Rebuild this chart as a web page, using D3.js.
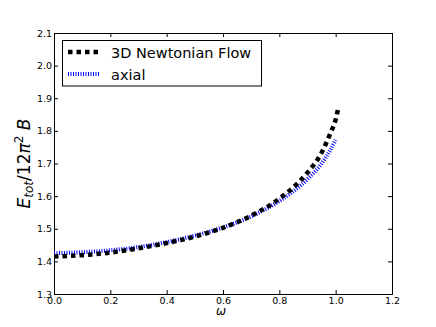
<!DOCTYPE html><meta charset="utf-8">
<title>E_tot vs omega</title>
<style>
  body{margin:0;background:#fff}
  svg{display:block}
  text{font-family:"DejaVu Sans",sans-serif}
</style>
<script src="https://d3js.org/d3.v7.min.js"></script>
<body><script>
const W = 436, H = 327;
const m = {left:54, right:44, top:33, bottom:33};

// data
const omegaNewton = [0, 0.1, 0.2, 0.3, 0.4, 0.5, 0.6, 0.7, 0.8, 0.85, 0.9, 0.95, 0.98, 1.0, 1.01];
const eNewton     = [1.415, 1.419, 1.427, 1.440, 1.456, 1.476, 1.503, 1.540, 1.592, 1.627, 1.672, 1.733, 1.790, 1.835, 1.873];
const omegaAxial  = [0, 0.1, 0.2, 0.3, 0.4, 0.5, 0.6, 0.7, 0.8, 0.85, 0.9, 0.95, 0.98, 1.0];
const eAxial      = [1.425, 1.428, 1.434, 1.444, 1.459, 1.479, 1.504, 1.538, 1.585, 1.615, 1.652, 1.700, 1.740, 1.772];
const xTicks = [0, 0.2, 0.4, 0.6, 0.8, 1.0, 1.2];
const yTicks = [1.3, 1.4, 1.5, 1.6, 1.7, 1.8, 1.9, 2.0, 2.1];
const seriesNames = ["3D Newtonian Flow", "axial"];

const svg = d3.select("body").append("svg").attr("width", W).attr("height", H);
const x = d3.scaleLinear().domain([0, 1.2]).range([m.left, W - m.right]);
const y = d3.scaleLinear().domain([1.3, 2.1]).range([H - m.bottom, m.top]);

/* ---- axes: ticks inward on all four sides ---- */
const fmt = d3.format(".1f");
const tk = 4;
svg.append("g").attr("transform", `translate(0,${H - m.bottom})`)
  .call(d3.axisBottom(x).tickValues(xTicks).tickFormat(fmt).tickSize(-tk).tickPadding(3));
svg.append("g").attr("transform", `translate(0,${m.top})`)
  .call(d3.axisTop(x).tickValues(xTicks).tickFormat("").tickSize(-tk));
svg.append("g").attr("transform", `translate(${m.left},0)`)
  .call(d3.axisLeft(y).tickValues(yTicks).tickFormat(fmt).tickSize(-tk).tickPadding(2));
svg.append("g").attr("transform", `translate(${W - m.right},0)`)
  .call(d3.axisRight(y).tickValues(yTicks).tickFormat("").tickSize(-tk));
svg.selectAll(".domain").attr("stroke", "#000").attr("stroke-width", 1);
svg.selectAll(".tick line").attr("stroke", "#000");
svg.selectAll(".tick text").attr("font-size", 9.5).attr("fill", "#000")
   .attr("font-family", "DejaVu Sans");

/* ---- lines ---- */
const line = d3.line().x(d => x(d[0])).y(d => y(d[1])).curve(d3.curveMonotoneX);
svg.append("path").datum(d3.zip(omegaAxial, eAxial))
  .attr("d", line).attr("fill", "none").attr("stroke", "#0000ff")
  .attr("stroke-width", 4).attr("stroke-dasharray", "1,1.5");
svg.append("path").datum(d3.zip(omegaNewton, eNewton))
  .attr("d", line).attr("fill", "none").attr("stroke", "#000")
  .attr("stroke-width", 4.5).attr("stroke-dasharray", "4.5,4");

/* ---- legend ---- */
const lg = svg.append("g");
lg.append("rect").attr("x", 62.5).attr("y", 40.5).attr("width", 199).attr("height", 45.5)
  .attr("fill", "#fff").attr("stroke", "#000");
const styles = [
  {stroke:"#000", w:4.5, dash:"4.5,4"},
  {stroke:"#0000ff", w:4, dash:"1,1.5"}
];
seriesNames.forEach((name, i) => {
  const yy = 52 + i * 22;
  lg.append("line").attr("x1", 68).attr("x2", 99).attr("y1", yy).attr("y2", yy)
    .attr("stroke", styles[i].stroke).attr("stroke-width", styles[i].w)
    .attr("stroke-dasharray", styles[i].dash);
  lg.append("text").attr("x", 111).attr("y", yy + 5.5).attr("font-size", 14.5)
    .text(name);
});

/* ---- axis labels ---- */
svg.append("text").attr("x", (m.left + W - m.right) / 2 - 2).attr("y", 315)
  .attr("text-anchor", "middle").attr("font-family", "Liberation Serif")
  .attr("font-style", "italic").attr("font-size", 12).text("ω");

const yl = svg.append("text")
  .attr("transform", `translate(30,${(m.top + H - m.bottom) / 2}) rotate(-90)`)
  .attr("text-anchor", "middle").attr("font-family", "Liberation Serif").attr("font-size", 17);
yl.append("tspan").attr("font-style", "italic").text("E");
yl.append("tspan").attr("font-style", "italic").attr("font-size", 12).attr("dy", 3).text("tot");
yl.append("tspan").attr("dy", -3).text("/12");
yl.append("tspan").attr("font-style", "italic").text("π");
yl.append("tspan").attr("font-size", 12).attr("dy", -7).text("2");
yl.append("tspan").attr("font-style", "italic").attr("dy", 7).text(" B");
</script>
